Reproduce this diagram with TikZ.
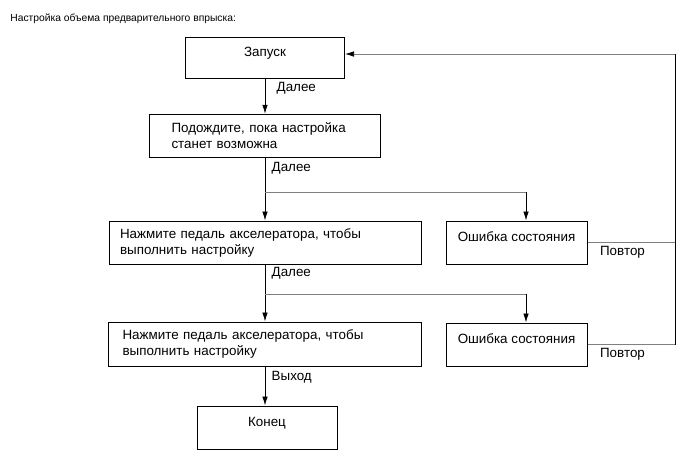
\documentclass[tikz,border=0pt]{standalone}
\usepackage{fontspec}
\setmainfont{Liberation Sans}
\usetikzlibrary{arrows.meta}
\tikzset{
  box/.style={draw, line width=1pt, minimum height=43pt, inner ysep=0pt},
  onebox/.style={box, minimum width=#1, text height=9pt, text depth=12pt},
  twobox/.style={box, align=left}
}
\begin{document}
\begin{tikzpicture}[auto, x=1pt, y=-1pt, line width=0.7pt, font=\fontsize{13.4}{16}\selectfont, >={Latex[length=9pt,width=5.5pt]}]
    \useasboundingbox (0,0) rectangle (691,467);

    \node[anchor=west, inner sep=0pt, font=\fontsize{10.3}{12}\selectfont] (t) at (10,19) {Настройка объема предварительного впрыска:};

    \node[onebox=159pt, minimum height=41pt] (a) at (265,57.5) {Запуск};
    \node[twobox, text width=187pt, inner xsep=22pt] (b) at (265,135.75) {Подождите, пока настройка\\станет возможна};
    \node[twobox, text width=290pt, inner xsep=11pt] (c) at (265,242.5) {Нажмите педаль акселератора, чтобы\\выполнить настройку};
    \node[onebox=141pt] (d) at (516.5,242.5) {Ошибка состояния};
    \node[twobox, text width=285pt, inner xsep=14pt, minimum height=44pt] (e) at (265,344) {Нажмите педаль акселератора, чтобы\\выполнить настройку};
    \node[onebox=141pt] (f) at (516.5,344.5) {Ошибка состояния};
    \node[onebox=140pt] (g) at (267,427.5) {Конец};

    \coordinate (p) at (265,192);
    \coordinate (q) at (526,192);
    \coordinate (r) at (265,294);
    \coordinate (s) at (526,294);
    \coordinate (u) at (675,54);

    \draw [->] (a) to node[pos=0.28, xshift=8pt] {Далее} (b);
    \draw [->] (b) to node[pos=0.16, xshift=3pt] {Далее} (c);
    \draw [gray] (p) -- (q);
    \draw [->] (q) -- (q |- d.north);
    \draw [->] (c) to node[pos=0.16, xshift=3pt] {Далее} (e);
    \draw [gray] (r) -- (s);
    \draw [->] (s) -- (s |- f.north);
    \draw [->] (e.south) to node[pos=0.28, xshift=3pt] {Выход} (e.south |- g.north);
    \draw [gray] (d) to node[pos=0.4, swap, text=black] {Повтор} (d.east -| u);
    \draw [gray] (f) to node[pos=0.4, swap, text=black] {Повтор} (f.east -| u);
    \draw (f.east -| u) -- (u);
    \draw [gray, -{Latex[length=9pt,width=5.5pt,black]}] (u) -- (u -| a.east);

\end{tikzpicture}
\end{document}
